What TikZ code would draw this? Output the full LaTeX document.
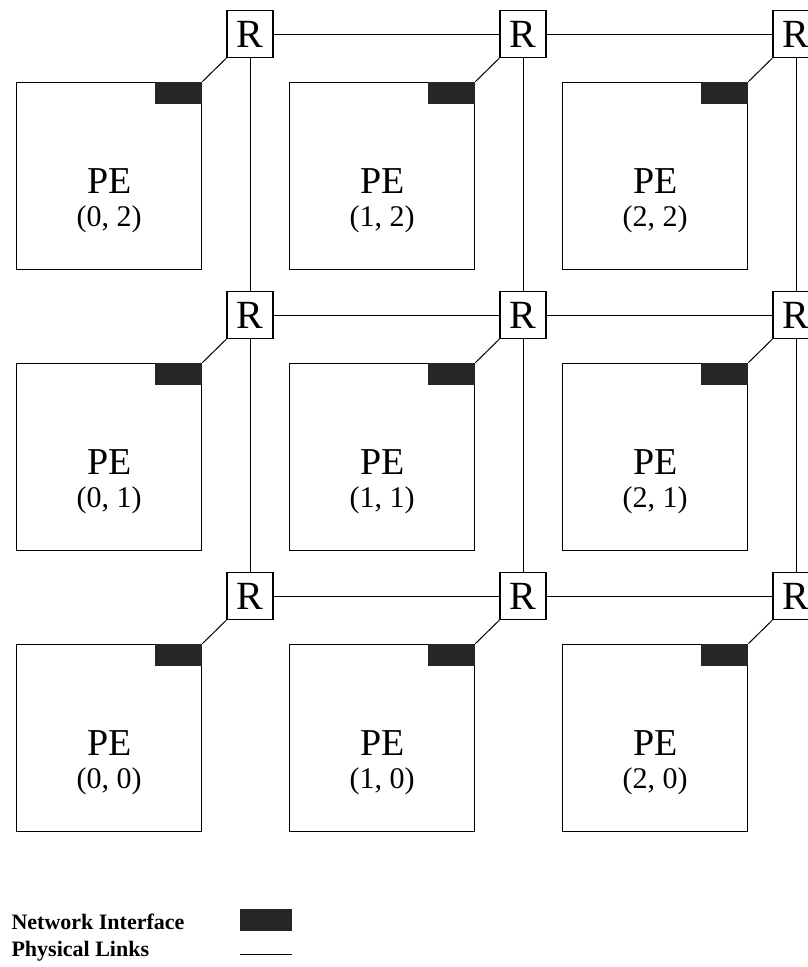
\documentclass[tikz,border=0pt]{standalone}
\usepackage{fontspec}
\setmainfont{Liberation Serif}
\usetikzlibrary{positioning,calc}

\begin{document}
\begin{tikzpicture}[x=1pt,y=-1pt,
    router/.style={draw,line width=1.3pt,minimum width=46pt,minimum height=47pt,inner sep=0pt,font=\fontsize{40}{40}\selectfont},
    pe/.style={draw,line width=1.3pt,minimum width=185pt,minimum height=187pt,inner sep=0pt},
    netif/.style={fill=black!85,minimum width=47pt,minimum height=22pt,inner sep=0pt},
    link/.style={line width=1pt}]
    \useasboundingbox (0,0) rectangle (808,967);
    % routers, PEs and their network interfaces
    \foreach \i in {0,1,2}{
        \foreach \j in {0,1,2}{
            \node[router] (R-\i-\j) at ({250+273*\i},{34+281*(2-\j)}) {R};
            \node[pe, below left=23.5pt and 24pt of R-\i-\j.south west] (PE-\i-\j) {};
            \node[align=center,font=\fontsize{38}{36}\selectfont] (L-\i-\j) at ($(PE-\i-\j.center)+(0,25)$)
                {PE\\[-3pt]{\fontsize{30}{30}\selectfont(\i, \j)}};
            \node[netif, anchor=north east] (NI-\i-\j) at (PE-\i-\j.north east) {};
            \draw[link] (PE-\i-\j.north east) -- (R-\i-\j.south west);
        }
    }
    % physical links
    \foreach \i in {0,1,2}
        \foreach \j/\k in {0/1,1/2}{
            \draw[link] (R-\i-\j) -- (R-\i-\k);
            \draw[link] (R-\j-\i) -- (R-\k-\i);
        }
    % legend
    \node[anchor=west,font=\bfseries\fontsize{22}{24}\selectfont] (ni-text) at (8,922) {Network Interface};
    \node[netif,minimum width=52pt,anchor=west] (ni-key) at (240,920) {};
    \node[anchor=west,font=\bfseries\fontsize{22}{24}\selectfont] (pl-text) at (8,951) {Physical Links};
    \coordinate (pl-a) at (240,954);
    \coordinate (pl-b) at (292,954);
    \draw[link] (pl-a) -- (pl-b);
\end{tikzpicture}
\end{document}
